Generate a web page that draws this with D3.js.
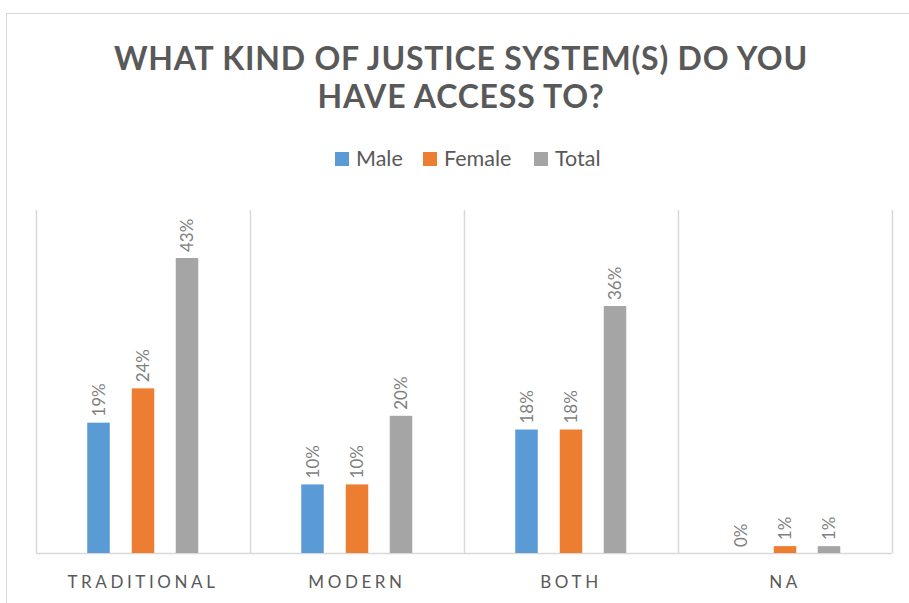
<!DOCTYPE html>
<html>
<head>
<meta charset="utf-8">
<script src="https://cdn.jsdelivr.net/npm/d3@7"></script>
<style>
  body { margin: 0; background: #fff; }
  text { font-family: Lato, "Open Sans", sans-serif; }
</style>
</head>
<body>
<div id="chart"></div>
<script>
// Data
const categories = ["TRADITIONAL", "MODERN", "BOTH", "NA"];
const seriesNames = ["Male", "Female", "Total"];
const male = [19, 10, 18, 0];
const female = [24, 10, 18, 1];
const total = [43, 20, 36, 1];
const titleLines = ["WHAT KIND OF JUSTICE SYSTEM(S) DO YOU", "HAVE ACCESS TO?"];

const colors = { Male: "#5b9bd5", Female: "#ed7d31", Total: "#a5a5a5" };

const W = 909, H = 603;
const margin = { top: 210, right: 17, bottom: 50, left: 36 };
const width = W - margin.left - margin.right;
const height = H - margin.top - margin.bottom;

const svg = d3.select("#chart")
  .append("svg")
  .attr("width", W)
  .attr("height", H);

// outer chart border
svg.append("rect")
  .attr("x", 6.5).attr("y", 13.5)
  .attr("width", 940).attr("height", 640)
  .attr("fill", "none")
  .attr("stroke", "#d9d9d9");

// Title
svg.append("text")
  .attr("x", 461)
  .attr("y", 70)
  .attr("text-anchor", "middle")
  .style("font-size", "32px")
  .style("font-weight", "bold")
  .style("letter-spacing", "0.8px")
  .style("fill", "#595959")
  .selectAll("tspan")
  .data(titleLines)
  .enter().append("tspan")
  .attr("x", 461)
  .attr("dy", (d, i) => i === 0 ? 0 : 38)
  .text(d => d);

const g = svg.append("g")
  .attr("transform", "translate(" + margin.left + "," + margin.top + ")");

const x0 = d3.scaleBand().domain(categories).range([0, width]);
const y = d3.scaleLinear().domain([0, 50]).range([height, 0]);

const rows = categories.map((c, i) => ({
  cat: c,
  vals: [
    { name: "Male", v: male[i] },
    { name: "Female", v: female[i] },
    { name: "Total", v: total[i] }
  ]
}));

// category separators
g.selectAll("line.sep")
  .data(categories.concat(["end"]))
  .enter().append("line")
  .attr("class", "sep")
  .attr("x1", (d, i) => i * x0.bandwidth() + 0.5)
  .attr("x2", (d, i) => i * x0.bandwidth() + 0.5)
  .attr("y1", 0)
  .attr("y2", height)
  .attr("stroke", "#d9d9d9")
  .attr("stroke-width", 1.5);

// baseline
g.append("line")
  .attr("x1", 0).attr("x2", width)
  .attr("y1", height + 0.5).attr("y2", height + 0.5)
  .attr("stroke", "#d9d9d9")
  .attr("stroke-width", 1.5);

const bw = 22.5;
const offsets = { Male: 62.5 - bw / 2, Female: 107 - bw / 2, Total: 151 - bw / 2 };

const groups = g.selectAll("g.cat")
  .data(rows)
  .enter().append("g")
  .attr("class", "cat")
  .attr("transform", d => "translate(" + x0(d.cat) + ",0)");

groups.selectAll("rect")
  .data(d => d.vals)
  .enter().append("rect")
  .attr("x", d => offsets[d.name])
  .attr("y", d => y(d.v))
  .attr("width", bw)
  .attr("height", d => height - y(d.v))
  .attr("fill", d => colors[d.name]);

groups.selectAll("text.lbl")
  .data(d => d.vals)
  .enter().append("text")
  .attr("class", "lbl")
  .attr("transform", d => "translate(" + (offsets[d.name] + bw / 2 + 6) + "," + (y(d.v) - 6) + ") rotate(-90)")
  .style("font-size", "17px")
  .style("fill", "#7f7f7f")
  .text(d => d.v + "%");

// category labels
groups.append("text")
  .attr("x", x0.bandwidth() / 2)
  .attr("y", height + 35)
  .attr("text-anchor", "middle")
  .style("font-size", "17px")
  .style("letter-spacing", "3.6px")
  .style("fill", "#595959")
  .text(d => d.cat);

// Legend
const legendX = [335, 423, 534];
const legend = svg.append("g").attr("class", "legend");
legend.selectAll("rect")
  .data(seriesNames)
  .enter().append("rect")
  .attr("x", (d, i) => legendX[i])
  .attr("y", 152)
  .attr("width", 14)
  .attr("height", 14)
  .attr("fill", d => colors[d]);
legend.selectAll("text")
  .data(seriesNames)
  .enter().append("text")
  .attr("x", (d, i) => legendX[i] + 21)
  .attr("y", 166)
  .style("font-size", "21.5px")
  .style("fill", "#595959")
  .text(d => d);
</script>
</body>
</html>
